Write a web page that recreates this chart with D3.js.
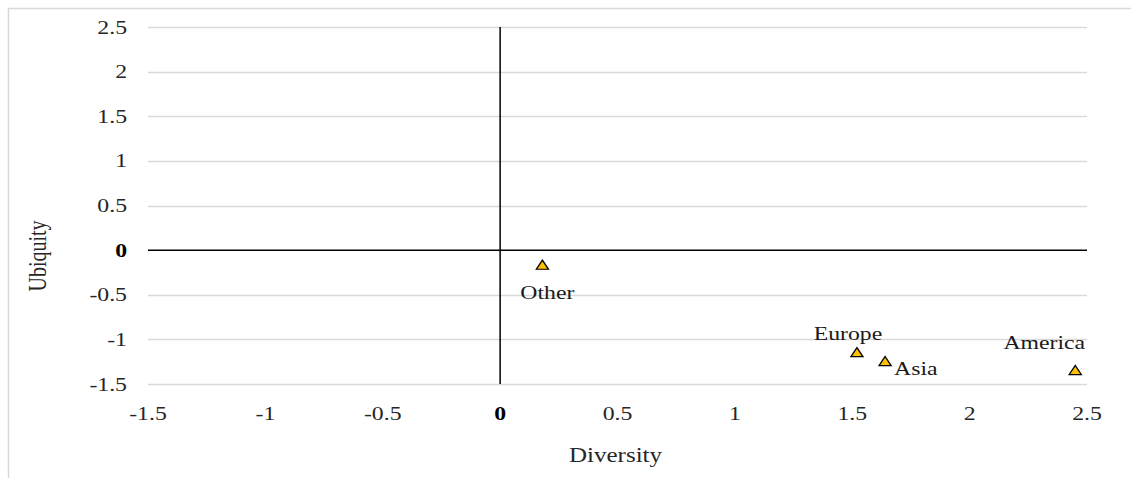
<!DOCTYPE html>
<html>
<head>
<meta charset="utf-8">
<script src="https://cdn.jsdelivr.net/npm/d3@7"></script>
<style>
  html, body { margin: 0; padding: 0; background: #fff; }
  svg { display: block; }
</style>
</head>
<body>
<svg id="chart" width="1131" height="478"></svg>
<script>
// ---- data ----
const names = ["Other", "Europe", "Asia", "America"];
const diversity = [0.18, 1.52, 1.64, 2.45];
const ubiquity = [-0.18, -1.16, -1.26, -1.36];
const xTicks = [-1.5, -1, -0.5, 0, 0.5, 1, 1.5, 2, 2.5];
const yTicks = [-1.5, -1, -0.5, 0, 0.5, 1, 1.5, 2, 2.5];
const xTitle = "Diversity";
const yTitle = "Ubiquity";

// ---- layout (kept apart from data) ----
const labelPlacement = {
  Other:   { dx: 5,   dy: 33,  anchor: "middle" },
  Europe:  { dx: -9,  dy: -14, anchor: "middle" },
  Asia:    { dx: 9,   dy: 12,  anchor: "start" },
  America: { dx: -31, dy: -23, anchor: "middle" }
};

const svg = d3.select("#chart");
const W = 1131, H = 478;
const plot = { left: 148, right: 1087, top: 27, bottom: 384 };
const FONT = "'Liberation Serif'";
const SX = 1.25; // horizontal glyph stretch seen in the reference

svg.append("rect").attr("x", 8.5).attr("y", 8.5)
  .attr("width", W).attr("height", H)
  .attr("fill", "#fff").attr("stroke", "#d9d9d9").attr("stroke-width", 1.5);

const x = d3.scaleLinear().domain([-1.5, 2.5]).range([plot.left, plot.right]);
const y = d3.scaleLinear().domain([-1.5, 2.5]).range([plot.bottom, plot.top]);

// horizontal gridlines
svg.append("g").selectAll("line").data(yTicks.filter(t => t !== 0)).join("line")
  .attr("x1", plot.left).attr("x2", plot.right)
  .attr("y1", d => Math.round(y(d)) + 0.5).attr("y2", d => Math.round(y(d)) + 0.5)
  .attr("stroke", "#d9d9d9").attr("stroke-width", 1.5);

const fmt = d => String(d);
// y tick labels
svg.append("g").selectAll("text").data(yTicks).join("text")
  .attr("transform", d => `translate(127,${y(d) + 6.5}) scale(${SX},1)`)
  .attr("text-anchor", "end")
  .style("font-family", FONT)
  .style("font-size", "19px")
  .style("font-weight", d => d === 0 ? "bold" : "normal")
  .style("fill", d => d === 0 ? "#000" : "#262626")
  .text(fmt);

// x tick labels
svg.append("g").selectAll("text").data(xTicks).join("text")
  .attr("transform", d => `translate(${x(d)},420) scale(${SX},1)`)
  .attr("text-anchor", "middle")
  .style("font-family", FONT)
  .style("font-size", "19px")
  .style("font-weight", d => d === 0 ? "bold" : "normal")
  .style("fill", d => d === 0 ? "#000" : "#262626")
  .text(fmt);

// zero axes
svg.append("line")
  .attr("x1", plot.left).attr("x2", plot.right)
  .attr("y1", y(0)).attr("y2", y(0))
  .attr("stroke", "#000").attr("stroke-width", 1.5);
svg.append("line")
  .attr("x1", x(0)).attr("x2", x(0))
  .attr("y1", plot.top).attr("y2", plot.bottom)
  .attr("stroke", "#000").attr("stroke-width", 1.5);

// axis titles
svg.append("text")
  .attr("transform", `translate(${(plot.left + plot.right) / 2 - 2},462) scale(${SX},1)`)
  .attr("text-anchor", "middle")
  .style("font-family", FONT).style("font-size", "20px")
  .style("fill", "#262626").text(xTitle);
svg.append("text")
  .attr("transform", `translate(46,256) scale(${SX},1) rotate(-90)`)
  .attr("text-anchor", "middle")
  .style("font-family", FONT).style("font-size", "20px")
  .style("fill", "#262626").text(yTitle);

// points
const pts = names.map((n, i) => ({ name: n, x: diversity[i], y: ubiquity[i] }));
const tri = d3.symbol().type(d3.symbolTriangle).size(48);
svg.append("g").selectAll("path").data(pts).join("path")
  .attr("d", tri)
  .attr("transform", d => `translate(${x(d.x)},${y(d.y)}) scale(1.15,1)`)
  .attr("fill", "#ffc000").attr("stroke", "#000").attr("stroke-width", 1.2);

// labels
svg.append("g").selectAll("text").data(pts).join("text")
  .attr("transform", d => `translate(${x(d.x) + labelPlacement[d.name].dx},${y(d.y) + labelPlacement[d.name].dy}) scale(${SX},1)`)
  .attr("text-anchor", d => labelPlacement[d.name].anchor)
  .style("font-family", FONT)
  .style("font-size", "19px")
  .style("fill", "#1a1a1a")
  .text(d => d.name);
</script>
</body>
</html>
